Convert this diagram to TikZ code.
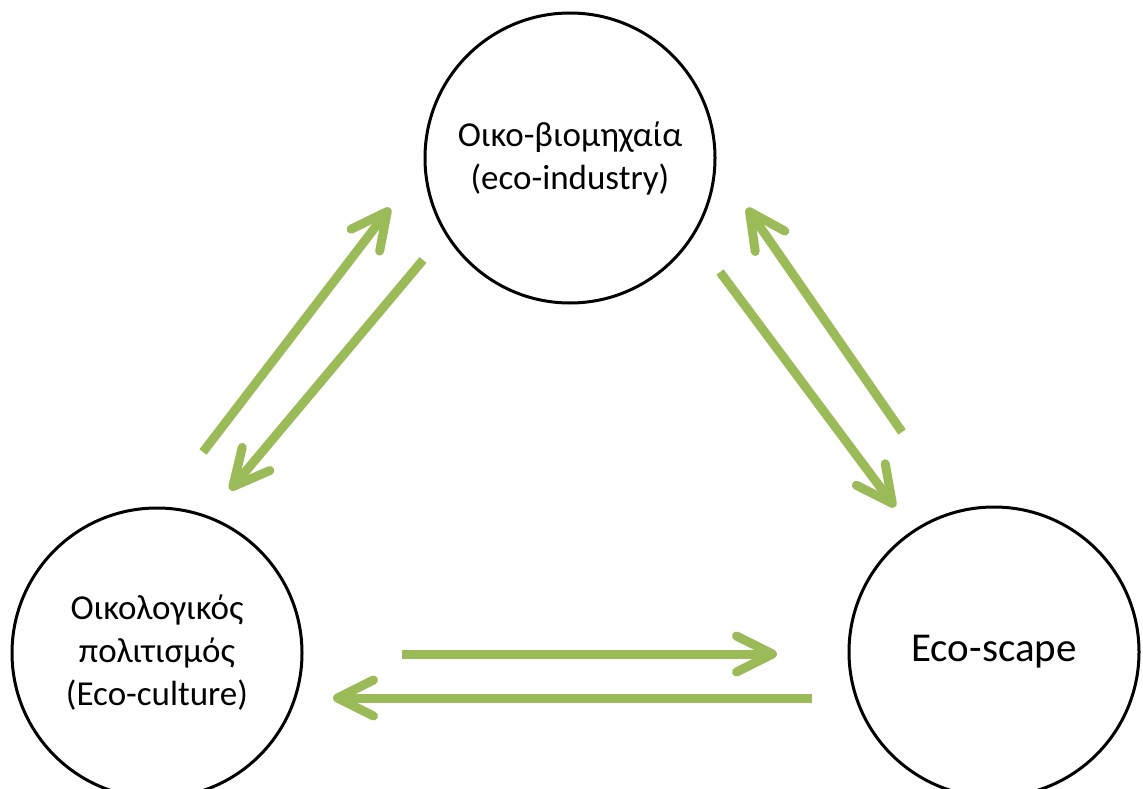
\documentclass[tikz,border=0pt]{standalone}
\usepackage{fontspec}
\setmainfont{Carlito}
\usetikzlibrary{arrows.meta}
\definecolor{ecogreen}{RGB}{155,187,89}

\begin{document}
\begin{tikzpicture}[x=1pt,y=-1pt,every text node part/.style={align=center},
  sphere/.style={circle,draw,line width=3pt,minimum size=290pt,inner sep=0pt,
    font=\fontsize{35}{43}\selectfont},
  flow/.style={draw=ecogreen,line width=9pt,
    -{Straight Barb[length=36pt,width=36pt,round]}}]
  \useasboundingbox (0,0) rectangle (1143,789);

  % Circles
  \node[sphere] (Ind) at (570,158) {Οικο-βιομηχαία\\(eco-industry)};
  \node[sphere] (Cult) at (157,653) {Οικολογικός\\πολιτισμός\\(Eco-culture)};
  \node[sphere,font=\fontsize{41}{49}\selectfont] (Scape) at (994,652) {Eco-scape};

  % Arrow ends
  \coordinate (CultIndA) at (203,452);
  \coordinate (CultIndB) at (390,208);
  \coordinate (IndCultA) at (423,260);
  \coordinate (IndCultB) at (230,490);
  \coordinate (IndScapeA) at (720,272);
  \coordinate (IndScapeB) at (895,507);
  \coordinate (ScapeIndA) at (902,432);
  \coordinate (ScapeIndB) at (747,208);
  \coordinate (CultScapeA) at (402,654);
  \coordinate (CultScapeB) at (777,654);
  \coordinate (ScapeCultA) at (812,698);
  \coordinate (ScapeCultB) at (333,698);

  \draw [flow] (CultIndA)   to (CultIndB);
  \draw [flow] (IndCultA)   to (IndCultB);
  \draw [flow] (IndScapeA)  to (IndScapeB);
  \draw [flow] (ScapeIndA)  to (ScapeIndB);
  \draw [flow] (CultScapeA) to (CultScapeB);
  \draw [flow] (ScapeCultA) to (ScapeCultB);
\end{tikzpicture}
\end{document}
